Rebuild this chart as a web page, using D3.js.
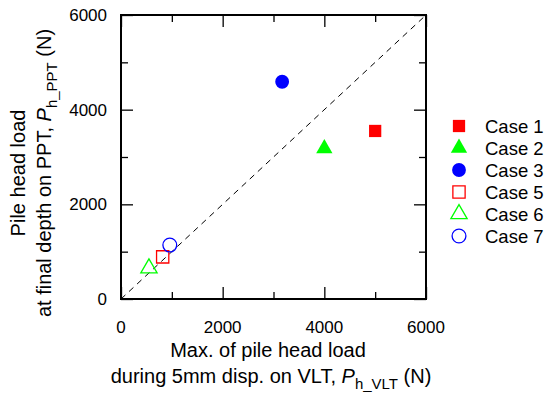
<!DOCTYPE html>
<html>
<head>
<meta charset="utf-8">
<script src="https://cdn.jsdelivr.net/npm/d3@7"></script>
<style>
  body { margin: 0; background: #fff; }
  svg { font-family: "Liberation Sans", Arial, sans-serif; }
</style>
</head>
<body>
<svg width="544" height="394"></svg>
<script>
// data
var cases   = ["Case 1", "Case 2", "Case 3", "Case 5", "Case 6", "Case 7"];
var pVLT    = [5000, 4000, 3170, 820, 550, 960];
var pPPT    = [3550, 3180, 4590, 890, 650, 1140];
var shapes  = ["square", "triangle", "circle", "square", "triangle", "circle"];
var colors  = ["#ff0000", "#00ff00", "#0000ff", "#ff0000", "#00ff00", "#0000ff"];
var filled  = [true, true, true, false, false, false];
var xTicks  = [0, 2000, 4000, 6000];
var yTicks  = [0, 2000, 4000, 6000];
var minorTicks = [1000, 3000, 5000];
var refLine = [0, 6000];

var svg = d3.select("svg"),
    margin = {top: 15, right: 118, bottom: 95, left: 121},
    width = 544 - margin.left - margin.right,
    height = 394 - margin.top - margin.bottom,
    g = svg.append("g").attr("transform", "translate(" + margin.left + "," + margin.top + ")");

var x = d3.scaleLinear().domain([0, 6000]).range([0, width]);
var y = d3.scaleLinear().domain([0, 6000]).range([height, 0]);

// ticks on all four sides, pointing inward
function ticks(axis, vals, len) {
  return axis.tickValues(vals).tickSize(-len).tickFormat("");
}
var tickG = g.append("g").attr("class", "ticks");
tickG.append("g").attr("transform", "translate(0," + height + ")").call(ticks(d3.axisBottom(x), xTicks, 12));
tickG.append("g").attr("transform", "translate(0," + height + ")").call(ticks(d3.axisBottom(x), minorTicks, 7));
tickG.append("g").call(ticks(d3.axisTop(x), xTicks, 12));
tickG.append("g").call(ticks(d3.axisTop(x), minorTicks, 7));
tickG.append("g").call(ticks(d3.axisLeft(y), yTicks, 12));
tickG.append("g").call(ticks(d3.axisLeft(y), minorTicks, 7));
tickG.append("g").attr("transform", "translate(" + width + ",0)").call(ticks(d3.axisRight(y), yTicks, 12));
tickG.append("g").attr("transform", "translate(" + width + ",0)").call(ticks(d3.axisRight(y), minorTicks, 7));
tickG.selectAll(".domain").remove();
tickG.selectAll("line").attr("stroke", "#000").attr("stroke-width", 1.3);

// tick labels
g.selectAll(".xlab").data(xTicks).enter().append("text")
    .attr("x", function (d) { return x(d); })
    .attr("y", height + 34)
    .attr("text-anchor", "middle")
    .style("font-size", "17px")
    .text(function (d) { return d; });

g.selectAll(".ylab").data(yTicks).enter().append("text")
    .attr("x", -14)
    .attr("y", function (d) { return y(d); })
    .attr("dy", "0.36em")
    .attr("text-anchor", "end")
    .style("font-size", "17px")
    .text(function (d) { return d; });

// 1:1 dashed line
g.append("line")
    .attr("x1", x(refLine[0])).attr("y1", y(refLine[0]))
    .attr("x2", x(refLine[1])).attr("y2", y(refLine[1]))
    .attr("stroke", "#000")
    .attr("stroke-width", 1)
    .attr("stroke-dasharray", "6,5");

// frame
g.append("rect")
    .attr("width", width).attr("height", height)
    .attr("fill", "none").attr("stroke", "#000").attr("stroke-width", 2);

var symType = {square: d3.symbolSquare, triangle: d3.symbolTriangle, circle: d3.symbolCircle};
var symSize = {square: 150, triangle: 115, circle: 150};
function marker(i) {
  return d3.symbol().type(symType[shapes[i]]).size(symSize[shapes[i]])();
}

// points
g.selectAll(".pt").data(cases).enter().append("path")
    .attr("transform", function (d, i) { return "translate(" + x(pVLT[i]) + "," + y(pPPT[i]) + ")"; })
    .attr("d", function (d, i) { return marker(i); })
    .attr("fill", function (d, i) { return filled[i] ? colors[i] : "none"; })
    .attr("stroke", function (d, i) { return colors[i]; })
    .attr("stroke-width", function (d, i) { return filled[i] ? 0 : 1.3; });

// legend
var leg = svg.append("g").attr("transform", "translate(459,126)");
leg.selectAll("path").data(cases).enter().append("path")
    .attr("transform", function (d, i) { return "translate(0," + (i * 22) + ")"; })
    .attr("d", function (d, i) { return marker(i); })
    .attr("fill", function (d, i) { return filled[i] ? colors[i] : "none"; })
    .attr("stroke", function (d, i) { return colors[i]; })
    .attr("stroke-width", function (d, i) { return filled[i] ? 0 : 1.3; });
leg.selectAll("text").data(cases).enter().append("text")
    .attr("x", 26)
    .attr("y", function (d, i) { return i * 22; })
    .attr("dy", "0.36em")
    .style("font-size", "18.5px")
    .text(function (d) { return d; });

// x title
var xt = svg.append("text")
    .attr("text-anchor", "middle")
    .style("font-size", "20px");
xt.append("tspan").attr("x", 268).attr("y", 357).text("Max. of pile head load");
var xt2 = xt.append("tspan").attr("x", 271).attr("y", 383);
xt2.text("during 5mm disp. on VLT, ");
xt2.append("tspan").style("font-style", "italic").text("P");
xt2.append("tspan").attr("dy", 6).style("font-size", "15px").text("h_VLT");
xt2.append("tspan").attr("dy", -6).text(" (N)");

// y title
var yt = svg.append("text")
    .attr("transform", "translate(0,173) rotate(-90)")
    .attr("text-anchor", "middle")
    .style("font-size", "20px");
yt.append("tspan").attr("x", 0).attr("y", 25).text("Pile head load");
var yt2 = yt.append("tspan").attr("x", 0).attr("y", 51);
yt2.text("at final depth on PPT, ");
yt2.append("tspan").style("font-style", "italic").text("P");
yt2.append("tspan").attr("dy", 6).style("font-size", "15px").text("h_PPT");
yt2.append("tspan").attr("dy", -6).text(" (N)");
</script>
</body>
</html>
